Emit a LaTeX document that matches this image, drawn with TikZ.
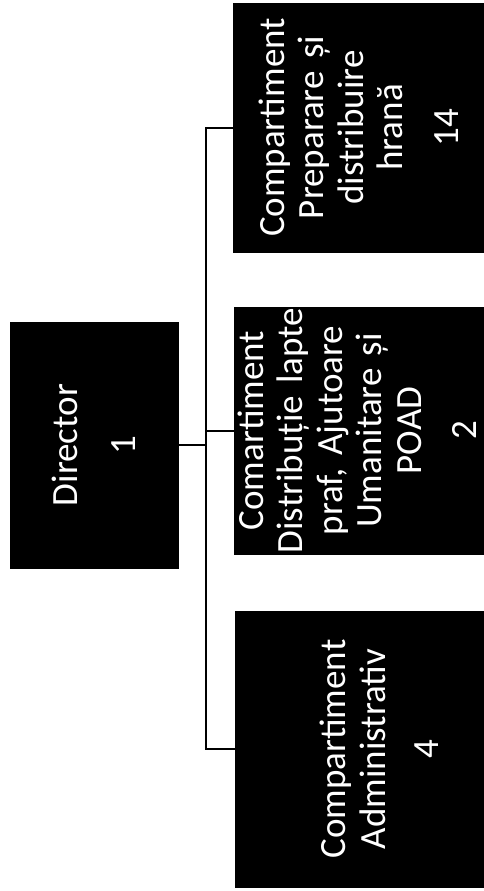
\documentclass[tikz,border=0pt]{standalone}
\usepackage{fontspec}
\newfontfamily\carlito{Carlito}
\usepackage{tikz}
\usetikzlibrary{positioning}

\begin{document}
\begin{tikzpicture}[x=1pt, y=1pt]
  \tikzset{
  unitbox/.style={rectangle, fill=black, draw=black, inner sep=0pt},
  unittxt/.style={rotate=90, text=white, align=center, text width=262pt,
    inner sep=0pt, font=\carlito\fontsize{37}{39.5}\selectfont},
  link/.style={black, line width=2pt},
}
% ============================================================
%  Organigrama (rotita 90 de grade): Director si 3 compartimente
% ============================================================
\useasboundingbox (0,0) rectangle (484,-891);

% ── Director ─────────────────────────────────────────────────
\node[unitbox, minimum width=168pt, minimum height=246pt] (dir) at (94,-445) {};
\node[unittxt] (dirtxt) at (dir.center) {Director\\[18pt]1};

% ── Compartimente ────────────────────────────────────────────
\node[unitbox, minimum width=251pt, minimum height=249pt] (prep)  at (358.5,-127.5) {};
\node[unitbox, minimum width=250pt, minimum height=247pt] (distr) at (359,-430.5) {};
\node[unitbox, minimum width=249pt, minimum height=276pt] (adm)   at (359.5,-749) {};

\node[unittxt] (preptxt) at (prep.center)
  {Compartiment\\Preparare și\\distribuire\\hrană\\[16pt]14};
\node[unittxt] (distrtxt) at ([xshift=-2pt]distr.center)
  {Comartiment\\Distribuție lapte\\praf, Ajutoare\\Umanitare și\\POAD\\[16pt]2};
\node[unittxt] (admtxt) at ([xshift=20pt]adm.center)
  {Compartiment\\Administrativ\\[14pt]4};

% ── Conexiuni ────────────────────────────────────────────────
\coordinate (bus) at (206,-445);
\draw[link] (dir.east) -- (bus);
\draw[link] (prep.west) -| (bus) |- (adm.west);
\draw[link] (distr.west) -- (distr.west -| bus);

\end{tikzpicture}
\end{document}
